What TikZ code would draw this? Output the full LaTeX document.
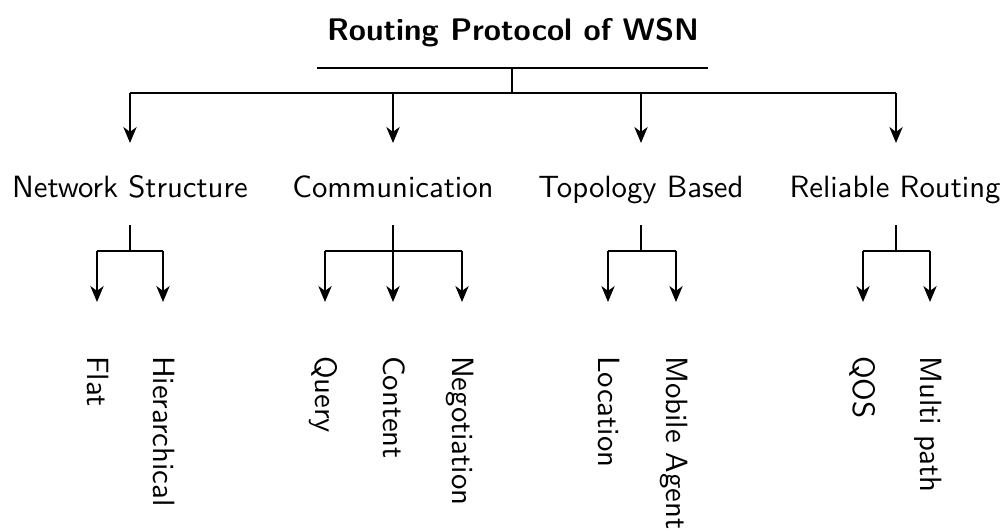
\documentclass[tikz,border=0pt]{standalone}
\usetikzlibrary{arrows.meta}
\begin{document}
\begin{tikzpicture}[x=0.3333pt,y=-0.3333pt,
  font=\sffamily\fontsize{10.25pt}{12pt}\selectfont,
  line width=0.8pt,
  titlebox/.style={inner sep=0pt,anchor=base,font=\sffamily\bfseries\fontsize{10.4pt}{12pt}\selectfont},
  catbox/.style={inner sep=0pt,anchor=base},
  leafbox/.style={inner sep=0pt,anchor=base west,rotate=-90},
  arr/.style={-{Stealth[length=5.3pt,width=4.4pt,inset=1.6pt]}}]
\useasboundingbox (0,0) rectangle (1005,530);

% root
\node[titlebox] (root) at (513,40) {Routing Protocol of WSN};
\coordinate (rootL) at (317,68);
\coordinate (rootR) at (708,68);
\coordinate (rootM) at (512,68);
\coordinate (rootJ) at (512,93);
\draw (rootL) -- (rootR);
\draw (rootM) -- (rootJ);

% categories
\node[catbox] (net)  at (130,197) {Network Structure};
\node[catbox] (com)  at (393,197) {Communication};
\node[catbox] (topo) at (641,197) {Topology Based};
\node[catbox] (rel)  at (895,197) {Reliable Routing};

\coordinate (barL) at (130,93);
\coordinate (barR) at (896,93);
\draw (barL) -- (barR);
\foreach \c/\x in {net/130,com/393,topo/641,rel/896}{
  \coordinate (\c top) at (\x,93);
  \coordinate (\c tip) at (\x,143);
  \draw[arr] (\c top) -- (\c tip);
}

% stems below categories
\foreach \c/\x/\l/\r in {net/130/97/163,com/393/325/462,topo/641/608/676,rel/896/863/930}{
  \coordinate (\c s) at (\x,225);
  \coordinate (\c j) at (\x,251);
  \coordinate (\c jl) at (\l,251);
  \coordinate (\c jr) at (\r,251);
  \draw (\c s) -- (\c j);
  \draw (\c jl) -- (\c jr);
}

% leaves
\foreach \n/\x/\t in {flat/97/Flat,hier/163/Hierarchical,
                      query/325/Query,content/393/Content,nego/462/Negotiation,
                      loc/608/Location,mob/676/Mobile Agent,
                      qos/863/QOS,multi/930/Multi path}{
  \coordinate (\n up) at (\x,251);
  \coordinate (\n tip) at (\x,302);
  \draw[arr] (\n up) -- (\n tip);
  \node[leafbox] (\n) at (\x-10,355) {\t};
}
\end{tikzpicture}
\end{document}
